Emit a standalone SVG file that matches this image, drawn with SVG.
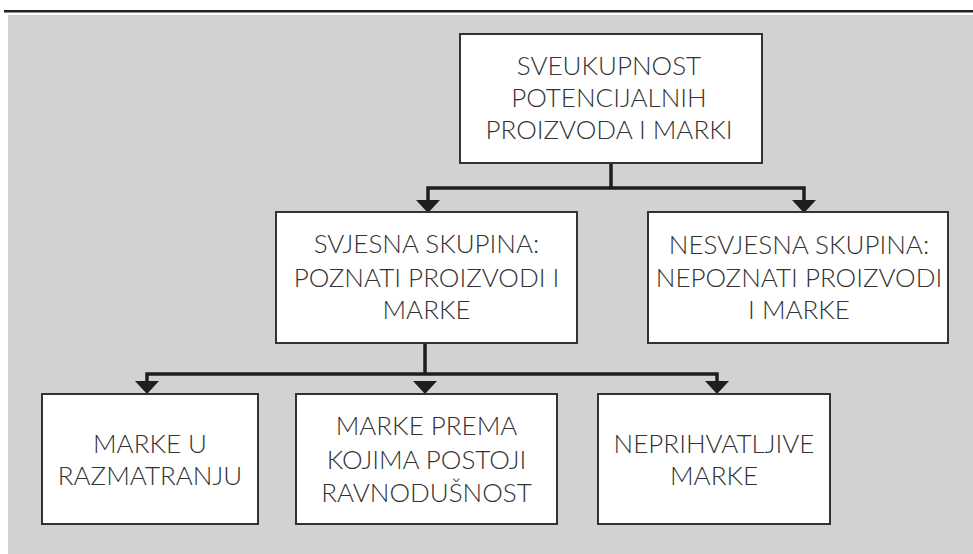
<svg xmlns="http://www.w3.org/2000/svg" width="973" height="554" viewBox="0 0 973 554">
<defs>
<style>
.box{fill:#ffffff;stroke:#333333;stroke-width:2}
.lbl{font-family:Lato,"Open Sans","Liberation Sans",sans-serif;font-size:26px;font-weight:300;fill:#333333;text-anchor:middle}
.conn{fill:none;stroke:#1e1e1e;stroke-width:3.5}
.ah{fill:#1e1e1e}
</style>
</defs>
<rect x="0" y="0" width="973" height="554" fill="#ffffff"/>
<rect x="8" y="15" width="965" height="539" fill="#d1d2d4"/>
<rect x="4" y="10" width="969" height="2.5" fill="#222222"/>

<g id="connectors">
<path class="conn" d="M611 163 V188"/>
<path class="conn" d="M428 201 V188 H804 V201"/>
<path class="conn" d="M425 343 V374"/>
<path class="conn" d="M147 382 V374 H717 V382"/>
<polygon class="ah" points="416,200 440,200 428,213"/>
<polygon class="ah" points="792,200 816,200 804,213"/>
<polygon class="ah" points="135,381 159,381 147,394"/>
<polygon class="ah" points="413,381 437,381 425,394"/>
<polygon class="ah" points="705,381 729,381 717,394"/>
</g>

<g id="n-total">
<rect class="box" x="460" y="34" width="302" height="129"/>
<text class="lbl" x="609" y="75">SVEUKUPNOST</text>
<text class="lbl" x="609" y="107">POTENCIJALNIH</text>
<text class="lbl" x="609" y="139">PROIZVODA I MARKI</text>
</g>

<g id="n-aware">
<rect class="box" x="276" y="212" width="301" height="131"/>
<text class="lbl" x="426.5" y="253">SVJESNA SKUPINA:</text>
<text class="lbl" x="426.5" y="287">POZNATI PROIZVODI I</text>
<text class="lbl" x="426.5" y="319">MARKE</text>
</g>

<g id="n-unaware">
<rect class="box" x="648" y="212" width="300" height="131"/>
<text class="lbl" x="799" y="254">NESVJESNA SKUPINA:</text>
<text class="lbl" x="799" y="287">NEPOZNATI PROIZVODI</text>
<text class="lbl" x="799" y="319">I MARKE</text>
</g>

<g id="n-consider">
<rect class="box" x="42" y="394" width="216" height="130"/>
<text class="lbl" x="150" y="453">MARKE U</text>
<text class="lbl" x="150" y="485">RAZMATRANJU</text>
</g>

<g id="n-indifferent">
<rect class="box" x="296" y="394" width="261" height="130"/>
<text class="lbl" x="426.5" y="435">MARKE PREMA</text>
<text class="lbl" x="426.5" y="468.5">KOJIMA POSTOJI</text>
<text class="lbl" x="426.5" y="501.5">RAVNODUŠNOST</text>
</g>

<g id="n-unacceptable">
<rect class="box" x="598" y="394" width="232" height="130"/>
<text class="lbl" x="714" y="453">NEPRIHVATLJIVE</text>
<text class="lbl" x="714" y="485">MARKE</text>
</g>
</svg>
